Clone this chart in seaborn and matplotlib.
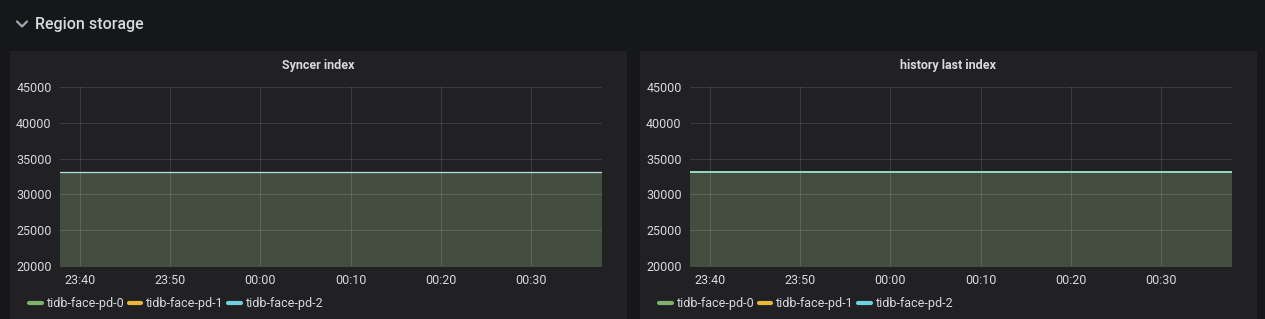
import matplotlib
matplotlib.use("Agg")
import matplotlib.pyplot as plt
import matplotlib.dates as mdates
from matplotlib.patches import Rectangle
from matplotlib.lines import Line2D
import numpy as np
import pandas as pd
import seaborn as sns

sns.set_theme(style="dark")
plt.rcParams['font.family'] = ['Roboto', 'DejaVu Sans']

# ---- data ----
section_title = "Region storage"
panel_titles = ["Syncer index", "history last index"]
series_names = ["tidb-face-pd-0", "tidb-face-pd-1", "tidb-face-pd-2"]
series_colors = ["#7eb26d", "#eab839", "#6ed0e0"]
times = ["2020-01-01 23:37:47", "2020-01-01 23:40:00", "2020-01-01 23:45:00",
         "2020-01-01 23:50:00", "2020-01-01 23:55:00", "2020-01-02 00:00:00",
         "2020-01-02 00:05:00", "2020-01-02 00:10:00", "2020-01-02 00:15:00",
         "2020-01-02 00:20:00", "2020-01-02 00:25:00", "2020-01-02 00:30:00",
         "2020-01-02 00:35:00", "2020-01-02 00:37:53"]
syncer_pd0 = [33170, 33170, 33170, 33170, 33170, 33170, 33170, 33170, 33170, 33170, 33170, 33170, 33170, 33170]
syncer_pd1 = [33170, 33170, 33170, 33170, 33170, 33170, 33170, 33170, 33170, 33170, 33170, 33170, 33170, 33170]
syncer_pd2 = [33180, 33180, 33180, 33180, 33180, 33180, 33180, 33180, 33180, 33180, 33180, 33180, 33180, 33180]
history_pd0 = [33120, 33120, 33120, 33120, 33120, 33120, 33120, 33120, 33120, 33120, 33120, 33120, 33120, 33120]
history_pd1 = [33120, 33120, 33120, 33120, 33120, 33120, 33120, 33120, 33120, 33120, 33120, 33120, 33120, 33120]
history_pd2 = [33130, 33130, 33130, 33130, 33130, 33130, 33130, 33130, 33130, 33130, 33130, 33130, 33130, 33130]
y_ticks = [20000, 25000, 30000, 35000, 40000, 45000]

panels_data = [[syncer_pd0, syncer_pd1, syncer_pd2],
               [history_pd0, history_pd1, history_pd2]]

W, H = 1265, 319
fig = plt.figure(figsize=(W / 100, H / 100), dpi=100)
fig.patch.set_facecolor("#161719")

def fx(px):
    return px / W

def fy(py):
    return 1 - py / H

text_color = "#d8d9da"

# header
fig.add_artist(Line2D([fx(17), fx(22), fx(27)], [fy(21.5), fy(26.5), fy(21.5)],
                      transform=fig.transFigure, color="#9fa7b3", lw=1.6))
fig.text(fx(35), fy(24), section_title, color=text_color, fontsize=11.5,
         fontweight="medium", va="center", ha="left")

panel_x = [(10, 627), (640, 1257)]
plot_x = [(60, 602), (690, 1232)]
plot_top, plot_bot = 87, 266
legend_x = [29, 659]
line_palettes = [["#a9d9a0", "#e8d9a0", "#a8e0e8"], ["#8fd6b0", "#c9d9a0", "#86d8cc"]]

t = pd.to_datetime(times)

for i in range(2):
    x0, x1 = panel_x[i]
    fig.add_artist(Rectangle((fx(x0), 0), fx(x1 - x0), fy(51), transform=fig.transFigure,
                             facecolor="#212124", edgecolor="none", zorder=0))
    fig.text(fx((x0 + x1) / 2), fy(65), panel_titles[i], color=text_color,
             fontsize=9, fontweight="bold", ha="center", va="center")

    px0, px1 = plot_x[i]
    ax = fig.add_axes([fx(px0), fy(plot_bot), fx(px1 - px0), (plot_bot - plot_top) / H])
    ax.set_facecolor("#212124")

    rows = []
    for name, vals in zip(series_names, panels_data[i]):
        for tt, v in zip(t, vals):
            rows.append({"time": tt, "value": v, "series": name})
    df = pd.DataFrame(rows)

    for name, vals, c in zip(series_names, panels_data[i], series_colors):
        ax.fill_between(t, vals, 0, color=c, alpha=0.105, lw=0, zorder=1)
    sns.lineplot(data=df, x="time", y="value", hue="series",
                 palette=line_palettes[i],
                 ax=ax, lw=0.8 if i == 0 else 1.1, legend=False, zorder=3)

    ax.set_ylim(20000, 45000)
    ax.set_xlim(t[0], t[-1])
    ax.set_yticks(y_ticks)
    ax.set_yticklabels([str(v) for v in y_ticks])
    ax.xaxis.set_major_locator(mdates.MinuteLocator(byminute=[0, 10, 20, 30, 40, 50]))
    ax.xaxis.set_major_formatter(mdates.DateFormatter("%H:%M"))
    ax.set_xlabel("")
    ax.set_ylabel("")
    ax.grid(True, color="white", alpha=0.12, lw=0.8)
    ax.set_axisbelow(False)
    for s in ax.spines.values():
        s.set_visible(False)
    ax.tick_params(colors=text_color, labelsize=9, length=0, pad=6)
    for lab in ax.get_yticklabels():
        lab.set_color(text_color)
    for lab in ax.get_xticklabels():
        lab.set_color(text_color)

    handles = [Line2D([0], [0], color=c, lw=3) for c in series_colors]
    ax.legend(handles, series_names, ncol=3, frameon=False, loc="center left",
              bbox_to_anchor=(fx(legend_x[i]), fy(304)), bbox_transform=fig.transFigure,
              handlelength=1.0, handletextpad=0.4, columnspacing=0.35,
              fontsize=9, labelcolor=text_color, borderaxespad=0, borderpad=0)

fig.savefig("out.png", dpi=100, facecolor=fig.get_facecolor())
